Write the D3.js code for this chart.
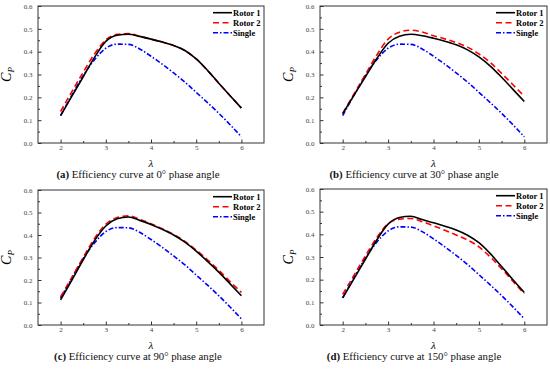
<!DOCTYPE html>
<html>
<head>
<meta charset="utf-8">
<script src="https://cdn.jsdelivr.net/npm/d3@7"></script>
<style>
  body { margin: 0; background: #fff; }
  svg { display: block; }
  .tick text { font-family: "Liberation Serif", serif; font-size: 7px; fill: #444; }
</style>
</head>
<body>
<div id="chart"></div>
<script>
// DATA
var lambdaPts = [2, 2.25, 2.5, 2.75, 3, 3.25, 3.5, 3.75, 4, 4.25, 4.5, 4.75, 5, 5.25, 5.5, 5.75, 6];
var xTicks = [2, 3, 4, 5, 6];
var yTicks = [0.0, 0.1, 0.2, 0.3, 0.4, 0.5, 0.6];
var seriesNames = ['Rotor 1', 'Rotor 2', 'Single'];

var single = [0.12, 0.21, 0.295, 0.365, 0.415, 0.433, 0.432, 0.412, 0.38, 0.345, 0.307, 0.267, 0.222, 0.177, 0.13, 0.08, 0.027];

var rotor1At0 = [0.12, 0.205, 0.29, 0.375, 0.445, 0.472, 0.476, 0.467, 0.455, 0.442, 0.427, 0.405, 0.368, 0.318, 0.262, 0.207, 0.153];
var rotor2At0 = [0.138, 0.225, 0.31, 0.39, 0.452, 0.476, 0.479, 0.468, 0.455, 0.442, 0.427, 0.405, 0.368, 0.318, 0.262, 0.207, 0.153];

var rotor1At30 = [0.128, 0.21, 0.29, 0.37, 0.437, 0.468, 0.476, 0.47, 0.459, 0.446, 0.43, 0.408, 0.377, 0.337, 0.288, 0.235, 0.182];
var rotor2At30 = [0.13, 0.215, 0.3, 0.385, 0.455, 0.485, 0.494, 0.486, 0.47, 0.456, 0.44, 0.42, 0.39, 0.352, 0.305, 0.255, 0.205];

var rotor1At90 = [0.112, 0.2, 0.29, 0.375, 0.44, 0.472, 0.48, 0.465, 0.447, 0.425, 0.4, 0.368, 0.328, 0.283, 0.235, 0.183, 0.13];
var rotor2At90 = [0.125, 0.212, 0.3, 0.385, 0.448, 0.478, 0.485, 0.47, 0.45, 0.428, 0.403, 0.372, 0.333, 0.29, 0.243, 0.193, 0.145];

var rotor1At150 = [0.12, 0.205, 0.29, 0.375, 0.445, 0.474, 0.48, 0.465, 0.451, 0.436, 0.419, 0.396, 0.363, 0.315, 0.258, 0.2, 0.143];
var rotor2At150 = [0.135, 0.22, 0.305, 0.385, 0.447, 0.467, 0.47, 0.456, 0.438, 0.418, 0.397, 0.375, 0.345, 0.3, 0.248, 0.193, 0.138];

var captionTags = ['(a)', '(b)', '(c)', '(d)'];
var captionTexts = [' Efficiency curve at 0° phase angle', ' Efficiency curve at 30° phase angle',
  ' Efficiency curve at 90° phase angle', ' Efficiency curve at 150° phase angle'];

// LAYOUT
var width = 550;
var height = 370;
var panels = [
  { left: 38, top: 6, w: 226, h: 137, r1: rotor1At0, r2: rotor2At0, cx: 138, cy: 177.5 },
  { left: 320, top: 6, w: 227, h: 137, r1: rotor1At30, r2: rotor2At30, cx: 414, cy: 177.5 },
  { left: 38, top: 190, w: 226, h: 135, r1: rotor1At90, r2: rotor2At90, cx: 138, cy: 359.5 },
  { left: 320, top: 189, w: 227, h: 136, r1: rotor1At150, r2: rotor2At150, cx: 414, cy: 359.5 }
];
var colors = ['#000000', '#ff0000', '#0000ff'];
var dashes = [null, '6,3.5', '5,2,1.5,2'];

var svg = d3.select('#chart')
  .append('svg')
  .attr('width', width)
  .attr('height', height);

function styleAxis(a) {
  a.select('.domain').remove();
  a.selectAll('line').attr('stroke', '#333');
}

panels.forEach(function(p, idx) {
  var x = d3.scaleLinear().domain([1.5, 6.5]).range([0, p.w]);
  var y = d3.scaleLinear().domain([0, 0.6]).range([p.h, 0]);

  var g = svg.append('g')
    .attr('transform', 'translate(' + p.left + ',' + p.top + ')');

  // MINOR TICKS
  g.append('g')
    .attr('transform', 'translate(0,' + p.h + ')')
    .call(d3.axisBottom(x).tickValues([2.5, 3.5, 4.5, 5.5]).tickSize(-2).tickFormat(''))
    .call(styleAxis);
  g.append('g')
    .call(d3.axisLeft(y).tickValues([0.05, 0.15, 0.25, 0.35, 0.45, 0.55]).tickSize(-2).tickFormat(''))
    .call(styleAxis);

  // MAJOR TICKS + LABELS
  g.append('g')
    .attr('transform', 'translate(0,' + p.h + ')')
    .call(d3.axisBottom(x).tickValues(xTicks).tickSize(-3.5).tickPadding(2).tickFormat(d3.format('d')))
    .call(styleAxis);
  g.append('g')
    .call(d3.axisLeft(y).tickValues(yTicks).tickSize(-3.5).tickPadding(5.5).tickFormat(d3.format('.1f')))
    .call(styleAxis);

  // FRAME
  g.append('rect')
    .attr('width', p.w)
    .attr('height', p.h)
    .attr('fill', 'none')
    .attr('stroke', '#333')
    .attr('stroke-width', 1);

  // CURVES
  var line = d3.line()
    .x(function(d, i) { return x(lambdaPts[i]); })
    .y(function(d) { return y(d); })
    .curve(d3.curveMonotoneX);

  var series = [p.r1, p.r2, single];
  // single first, then rotor 2, rotor 1 on top
  [2, 1, 0].forEach(function(k) {
    g.append('path')
      .datum(series[k])
      .attr('d', line)
      .attr('fill', 'none')
      .attr('stroke', colors[k])
      .attr('stroke-width', 1.6)
      .attr('stroke-dasharray', dashes[k]);
  });

  // LEGEND
  var legend = g.selectAll('.legend')
    .data(seriesNames)
    .enter()
    .append('g')
    .attr('class', 'legend')
    .attr('transform', function(d, i) {
      return 'translate(' + (p.w - 51) + ',' + (6.7 + i * 10) + ')';
    });
  legend.append('line')
    .attr('x1', 0).attr('x2', 19)
    .attr('stroke', function(d, i) { return colors[i]; })
    .attr('stroke-width', 1.6)
    .attr('stroke-dasharray', function(d, i) { return dashes[i]; });
  legend.append('text')
    .attr('x', 20)
    .attr('y', 3)
    .style('font-family', '"Liberation Serif", serif')
    .style('font-weight', 'bold')
    .style('font-size', '8.5px')
    .text(function(d) { return d; });

  // AXIS TITLES
  var yl = g.append('text')
    .attr('transform', 'translate(' + (-27) + ',' + (p.h / 2) + ') rotate(-90)')
    .attr('text-anchor', 'middle')
    .style('font-family', '"Liberation Serif", serif')
    .style('font-size', '14px')
    .style('font-style', 'italic');
  yl.append('tspan').text('C');
  yl.append('tspan').attr('dy', 3).style('font-size', '9px').text('P');

  g.append('text')
    .attr('x', x(4))
    .attr('y', p.h + 23.5)
    .attr('text-anchor', 'middle')
    .style('font-family', '"Liberation Serif", serif')
    .style('font-size', '11px')
    .style('font-style', 'italic')
    .text('λ');

  // CAPTION
  var cap = svg.append('text')
    .attr('x', p.cx)
    .attr('y', p.cy)
    .attr('text-anchor', 'middle')
    .style('font-family', '"Liberation Serif", serif')
    .style('font-size', '10.8px')
    .attr('fill', '#111');
  cap.append('tspan').style('font-weight', 'bold').text(captionTags[idx]);
  cap.append('tspan').text(captionTexts[idx]);
});
</script>
</body>
</html>
